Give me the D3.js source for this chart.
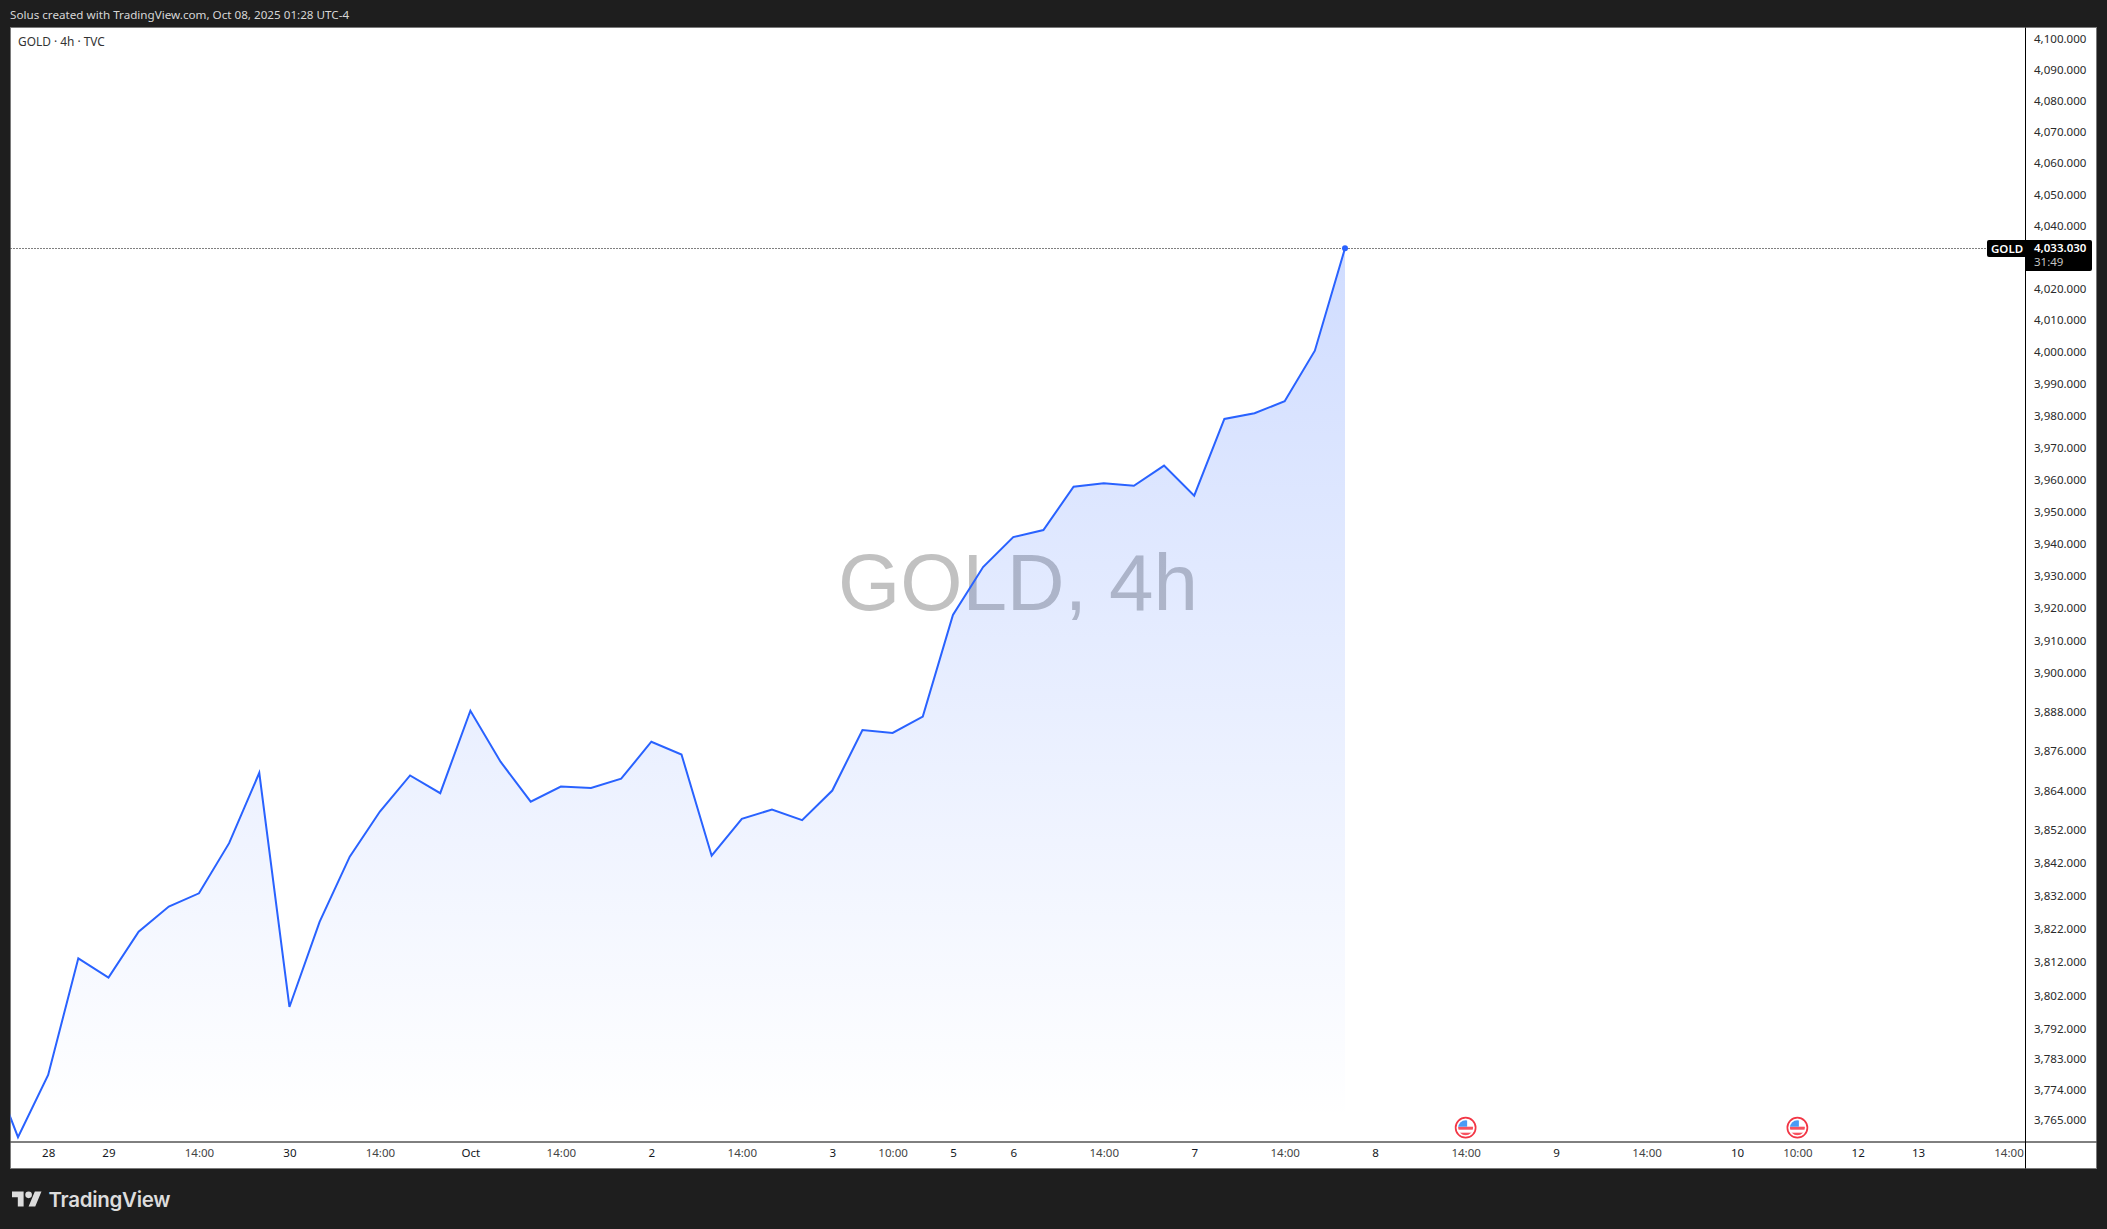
<!DOCTYPE html>
<html><head><meta charset="utf-8">
<style>
html,body{margin:0;padding:0;background:#1e1e1e;overflow:hidden}
svg{display:block}
text{font-family:"Noto Sans",sans-serif;}
.axis text{font-size:11.55px;font-family:"Noto Sans",sans-serif}
</style>
<script src="https://cdn.jsdelivr.net/npm/d3@7"></script>
</head><body>
<svg id="c" width="2107" height="1229"></svg>
<script>
// 4h closes, first bar sits one slot left of the visible pane
const closes = [3783.3,3760.0,3778.5,3813.4,3807.6,3821.4,3829.0,3833.0,3848.2,3869.6,3798.8,3824.4,3844.1,3857.8,3868.8,3863.4,3888.6,3873.0,3860.8,3865.4,3865.0,3867.8,3879.1,3875.2,3844.4,3855.6,3858.4,3855.2,3864.2,3882.7,3881.8,3886.8,3918.1,3932.9,3942.2,3944.4,3957.9,3959.0,3958.2,3964.5,3955.1,3979.1,3980.9,3984.7,4000.6,4033.03];
const firstBar = -1;
const priceTicks = [4100,4090,4080,4070,4060,4050,4040,4020,4010,4000,3990,3980,3970,3960,3950,3940,3930,3920,3910,3900,3888,3876,3864,3852,3842,3832,3822,3812,3802,3792,3783,3774,3765];
const timeTickBars = [1,3,6,9,12,15,18,21,24,27,29,31,33,36,39,42,45,48,51,54,57,59,61,63,66];
const timeTickLabels = ["28","29","14:00","30","14:00","Oct","14:00","2","14:00","3","10:00","5","6","14:00","7","14:00","8","14:00","9","14:00","10","10:00","12","13","14:00"];
const eventBars = [48,59];
const lastPrice = 4033.03;
const countdown = "31:49";

const pane = {l:10.5,t:27,r:2026,b:1142};
const frame = {l:10.5,t:27.5,r:2096.5,b:1168.5};
const x = d3.scaleLinear().domain([0,44]).range([18,1345]);
const y = d3.scaleLog().domain([4033.03,3765]).range([248.3,1120.3]);
const svg = d3.select("#c");
const defs = svg.append("defs");
defs.append("clipPath").attr("id","pane").append("rect")
  .attr("x",pane.l).attr("y",pane.t).attr("width",pane.r-pane.l).attr("height",pane.b-pane.t);
const g = defs.append("linearGradient").attr("id","fill").attr("gradientUnits","userSpaceOnUse")
  .attr("x1",0).attr("x2",0).attr("y1",y(lastPrice)).attr("y2",pane.b-22);
g.append("stop").attr("offset",0).attr("stop-color","#2962ff").attr("stop-opacity",.22);
g.append("stop").attr("offset",1).attr("stop-color","#2962ff").attr("stop-opacity",0);

svg.append("rect").attr("width",2107).attr("height",1229).attr("fill","#1e1e1e");
svg.append("rect").attr("x",frame.l).attr("y",frame.t).attr("width",frame.r-frame.l).attr("height",frame.b-frame.t)
  .attr("fill","#fff").attr("stroke","#7a7a7a").attr("stroke-width",1);

svg.append("text").attr("x",10).attr("y",19).attr("fill","#d6d6d6").style("font-size","11.67px")
  .text("Solus created with TradingView.com, Oct 08, 2025 01:28 UTC-4");
svg.append("text").attr("x",18).attr("y",46).attr("fill","#333").style("font-size","11.9px").text("GOLD · 4h · TVC");

svg.append("text").attr("x",1018).attr("y",610).attr("text-anchor","middle").attr("fill","#c1c1c1")
  .style("font-family","'Liberation Sans',sans-serif").style("font-size","80px").text("GOLD, 4h");

const plot = svg.append("g").attr("clip-path","url(#pane)");
const rows = closes.map((c,i)=>({bar:i+firstBar,c}));
plot.append("path").datum(rows).attr("fill","url(#fill)")
  .attr("d",d3.area().x(d=>x(d.bar)).y0(pane.b).y1(d=>y(d.c)));
plot.append("path").datum(rows).attr("fill","none").attr("stroke","#2962ff").attr("stroke-width",2)
  .attr("stroke-linejoin","miter").attr("d",d3.line().x(d=>x(d.bar)).y(d=>y(d.c)));
const ly = Math.round(y(lastPrice))+0.5;
plot.append("line").attr("x1",pane.l).attr("x2",pane.r).attr("y1",ly).attr("y2",ly)
  .attr("stroke","#000").attr("stroke-width",1).attr("stroke-dasharray","1 2");
plot.append("circle").attr("cx",x(44)).attr("cy",y(lastPrice)).attr("r",3).attr("fill","#2962ff");

// US event flags
const flagR = 10;
defs.append("clipPath").attr("id","flagc").append("circle").attr("r",flagR-2.5);
eventBars.forEach(b=>{
  const f = svg.append("g").attr("transform",`translate(${x(b)},1127.7)`);
  f.append("circle").attr("r",flagR).attr("fill","#fff").attr("stroke","#f23645").attr("stroke-width",1.7);
  const h = f.append("g").attr("clip-path","url(#flagc)");
  h.append("rect").attr("x",-8).attr("y",-8).attr("width",16).attr("height",16).attr("fill","#fff");
  h.append("rect").attr("x",-8).attr("y",-1).attr("width",16).attr("height",3).attr("fill","#f7525f");
  h.append("rect").attr("x",-8).attr("y",5).attr("width",16).attr("height",3).attr("fill","#f7525f");
  h.append("rect").attr("x",-8).attr("y",-8).attr("width",9.5).attr("height",7).attr("fill","#4a9bf5");
});

// axes
const ya = svg.append("g").attr("class","axis").attr("transform",`translate(${pane.r},-0.7)`)
  .call(d3.axisRight(y).tickValues(priceTicks).tickFormat(d3.format(",.3f")).tickSize(0).tickPadding(8));
ya.select(".domain").remove();
ya.selectAll("text").attr("fill","#2a2a2a");
const labelOf = new Map(timeTickBars.map((b,i)=>[b,timeTickLabels[i]]));
const xa = svg.append("g").attr("class","axis").attr("transform",`translate(0,${pane.b})`)
  .call(d3.axisBottom(x).tickValues(timeTickBars).tickFormat(b=>labelOf.get(b)).tickSize(0).tickPadding(7));
xa.select(".domain").remove();
xa.selectAll("text").attr("fill",(b)=>labelOf.get(b).includes(":")?"#444":"#131722");

svg.append("line").attr("x1",pane.l).attr("x2",frame.r).attr("y1",pane.b).attr("y2",pane.b).attr("stroke","#000").attr("stroke-width",1);
svg.append("line").attr("x1",pane.r-.5).attr("x2",pane.r-.5).attr("y1",frame.t).attr("y2",frame.b).attr("stroke","#000").attr("stroke-width",1);

// last price label
const labelTop = ly-8.5;
svg.append("path").attr("fill","#000")
  .attr("d",`M${pane.r-1} ${labelTop}H1989a2 2 0 0 0 -2 2V${labelTop+15}a2 2 0 0 0 2 2H${pane.r-1}Z`);
svg.append("path").attr("fill","#000")
  .attr("d",`M${pane.r} ${labelTop}H2090a2 2 0 0 1 2 2V${labelTop+29}a2 2 0 0 1 -2 2H${pane.r}Z`);
svg.append("text").attr("x",1991).attr("y",ly+4).attr("fill","#fff").style("font-size","11.5px").style("font-weight",600).text("GOLD");
svg.append("text").attr("x",2034).attr("y",ly+3.5).attr("fill","#fff").style("font-size","11.5px").style("font-weight",600).text(d3.format(",.3f")(lastPrice));
svg.append("text").attr("x",2034).attr("y",ly+17.5).attr("fill","#c4c4c4").style("font-size","11.5px").text(countdown);

// footer
const logo = svg.append("g").attr("transform","translate(12,1188.2) scale(.83)").attr("fill","#dcdcdc");
logo.append("path").attr("d","M14 22H7V11H0V4h14v18zM28 22h-8l7.5-18h8L28 22z");
logo.append("circle").attr("cx",20).attr("cy",8).attr("r",4);
svg.append("text").attr("x",48.5).attr("y",1206.5).attr("fill","#dcdcdc")
  .style("font-family","Inter,sans-serif").style("font-weight",600).style("font-size","20.5px").style("letter-spacing","-.3px").text("TradingView");
</script>
</body></html>
